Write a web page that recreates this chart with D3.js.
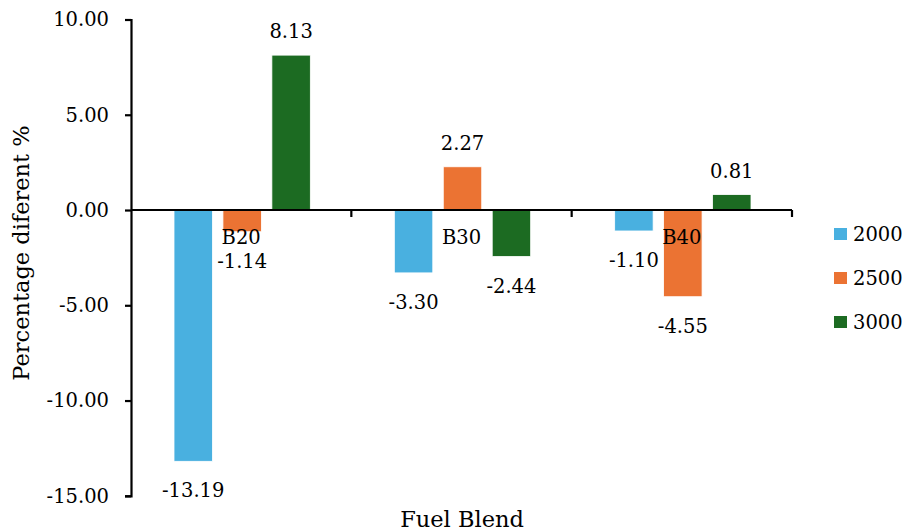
<!DOCTYPE html>
<html>
<head>
<meta charset="utf-8">
<script src="https://cdn.jsdelivr.net/npm/d3@7"></script>
<style>
  body { margin: 0; background: #fff; }
  svg { display: block; }
  text { font-family: "DejaVu Serif", "Liberation Serif", serif; fill: #000; }
</style>
</head>
<body>
<svg id="chart" width="908" height="531"></svg>
<script>
// Fuel blends and engine speed series (percentage difference)
const blends = ["B20", "B30", "B40"];
const speeds = ["2000", "2500", "3000"];
const values2000 = [-13.19, -3.30, -1.10];
const values2500 = [-1.14, 2.27, -4.55];
const values3000 = [8.13, -2.44, 0.81];
const yTicks = [10, 5, 0, -5, -10, -15];
const colors = ["#49B0E0", "#EB7333", "#1C6B22"];

const seriesValues = [values2000, values2500, values3000];
const rows = [];
blends.forEach((b, i) => {
  speeds.forEach((s, j) => rows.push({ blend: b, speed: s, value: seriesValues[j][i], color: colors[j] }));
});

const svg = d3.select("#chart");
const fontSize = 19.5;
const titleSize = 22.5;
const plotLeft = 131, plotRight = 792, plotTop = 19.5, plotBottom = 495.8;

const y = d3.scaleLinear().domain([-15, 10]).range([plotBottom, plotTop]);
const x0 = d3.scaleBand().domain(blends).range([plotLeft, plotRight]).paddingInner(0).paddingOuter(0);
const x1 = d3.scaleBand().domain(speeds).range([43, x0.bandwidth() - 41]).paddingInner(0.214).paddingOuter(0);

// Bars
svg.append("g").selectAll("rect").data(rows).join("rect")
  .attr("x", d => x0(d.blend) + x1(d.speed))
  .attr("width", x1.bandwidth())
  .attr("y", d => y(Math.max(0, d.value)))
  .attr("height", d => Math.abs(y(d.value) - y(0)))
  .attr("fill", d => d.color)
  .attr("stroke", "#ffffff")
  .attr("stroke-width", 0.8);

// Value labels
svg.append("g").selectAll("text").data(rows).join("text")
  .attr("x", d => x0(d.blend) + x1(d.speed) + x1.bandwidth() / 2)
  .attr("y", d => d.value >= 0 ? y(d.value) - 17 : y(d.value) + 36)
  .attr("text-anchor", "middle")
  .attr("font-size", fontSize)
  .text(d => d.value.toFixed(2));

// Y axis
const yAxis = d3.axisLeft(y).tickValues(yTicks).tickSize(6).tickPadding(16)
  .tickFormat(d => d.toFixed(2));
const gy = svg.append("g").attr("transform", `translate(${plotLeft},0)`).call(yAxis);
gy.select(".domain").attr("stroke", "#000").attr("stroke-width", 2.2);
gy.selectAll(".tick line").attr("stroke", "#000").attr("stroke-width", 2.2);
gy.selectAll(".tick text").attr("font-size", fontSize).attr("font-family", "DejaVu Serif").attr("fill", "#000");

// X axis along zero line, with category boundary ticks
const zeroY = y(0);
const gx = svg.append("g");
gx.append("line").attr("x1", plotLeft).attr("x2", plotRight).attr("y1", zeroY).attr("y2", zeroY)
  .attr("stroke", "#000").attr("stroke-width", 2.2);
const boundaries = blends.map(b => x0(b) + x0.bandwidth());
gx.selectAll("line.tk").data(boundaries).join("line").attr("class", "tk")
  .attr("x1", d => d).attr("x2", d => d).attr("y1", zeroY).attr("y2", zeroY + 7)
  .attr("stroke", "#000").attr("stroke-width", 2.2);
gx.selectAll("text").data(blends).join("text")
  .attr("x", d => x0(d) + x0.bandwidth() / 2)
  .attr("y", zeroY + 34)
  .attr("text-anchor", "middle")
  .attr("font-size", fontSize)
  .text(d => d);

// Axis titles
svg.append("text")
  .attr("transform", "translate(29,253) rotate(-90)")
  .attr("text-anchor", "middle")
  .attr("font-size", titleSize)
  .text("Percentage diferent %");
svg.append("text")
  .attr("x", 462).attr("y", 527)
  .attr("text-anchor", "middle")
  .attr("font-size", titleSize)
  .text("Fuel Blend");

// Legend
const legend = svg.append("g").attr("transform", "translate(834,228)");
speeds.forEach((s, i) => {
  const g = legend.append("g").attr("transform", `translate(0,${i * 44})`);
  g.append("rect").attr("width", 13).attr("height", 12).attr("fill", colors[i]);
  g.append("text").attr("x", 19).attr("y", 13).attr("font-size", fontSize).text(s);
});
</script>
</body>
</html>
